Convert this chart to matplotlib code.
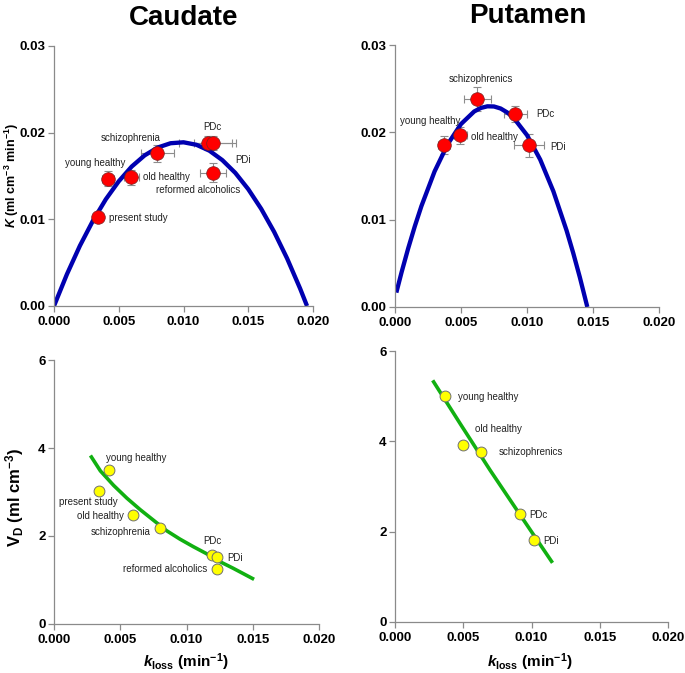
import matplotlib
matplotlib.use("Agg")
import matplotlib.pyplot as plt

plt.rcParams['font.family'] = ['Liberation Sans', 'DejaVu Sans']
plt.rcParams['mathtext.fontset'] = 'custom'
plt.rcParams['mathtext.rm'] = 'Liberation Sans:bold'
plt.rcParams['mathtext.it'] = 'Liberation Sans:bold:italic'
plt.rcParams['mathtext.bf'] = 'Liberation Sans:bold'

# ---- Caudate: K vs kloss ----
cau_groups = ["present study", "young healthy", "old healthy", "schizophrenia",
              "PDc", "PDi", "reformed alcoholics"]
cau_kloss = [0.0034, 0.00417, 0.00597, 0.00798, 0.01189, 0.01228, 0.01228]
cau_K = [0.01028, 0.01471, 0.01483, 0.0176, 0.01883, 0.01883, 0.01537]
cau_kloss_err = [0.0003, 0.0005, 0.0006, 0.0013, 0.0022, 0.00144, 0.001]
cau_K_err = [0.0004, 0.0009, 0.0009, 0.00095, 0.0008, 0.0008, 0.0011]
cau_VD = [3.03, 3.5, 2.47, 2.18, 1.56, 1.53, 1.25]

cau_fitK_k = [0, 0.001, 0.002, 0.003, 0.004, 0.005, 0.006, 0.007, 0.008, 0.009,
              0.010, 0.011, 0.012, 0.013, 0.014, 0.015, 0.016, 0.017, 0.018,
              0.019, 0.01954]
cau_fitK = [0, 0.00367, 0.00695, 0.00982, 0.01231, 0.01439, 0.01609, 0.01738,
            0.01828, 0.01878, 0.01889, 0.0186, 0.01792, 0.01683, 0.01536,
            0.01348, 0.01121, 0.00855, 0.00549, 0.00203, 0]
cau_fitVD_k = [0.00275, 0.0035, 0.0045, 0.0055, 0.0065, 0.0075, 0.0085, 0.0095,
               0.0105, 0.0115, 0.0125, 0.0135, 0.0151]
cau_fitVD = [3.83, 3.48, 3.15, 2.86, 2.60, 2.36, 2.12, 1.93, 1.76, 1.60, 1.42,
             1.27, 1.015]

# ---- Putamen ----
put_groups = ["young healthy", "old healthy", "schizophrenics", "PDc", "PDi"]
put_kloss = [0.00369, 0.00495, 0.00624, 0.00912, 0.01015]
put_K = [0.01854, 0.01964, 0.02381, 0.02209, 0.0185]
put_kloss_err = [0.00045, 0.0005, 0.001, 0.00085, 0.0011]
put_K_err = [0.001, 0.001, 0.0014, 0.0009, 0.0013]
put_vd_kloss = [0.00369, 0.00499, 0.00631, 0.00919, 0.0102]
put_VD = [5.006, 3.909, 3.762, 2.393, 1.811]

put_fitK_k = [0.0001, 0.0005, 0.001, 0.0015, 0.002, 0.003, 0.004, 0.005, 0.006,
              0.0065, 0.007, 0.0075, 0.008, 0.0085, 0.009, 0.010, 0.011, 0.012,
              0.013, 0.0135, 0.014, 0.01457]
put_fitK = [0.00165, 0.00399, 0.00672, 0.00924, 0.01155, 0.01553, 0.01866,
            0.02095, 0.02239, 0.02279, 0.02298, 0.02296, 0.02273, 0.02228,
            0.02163, 0.01968, 0.01688, 0.01324, 0.00875, 0.00619, 0.00342, 0]
put_fitVD_k = [0.00276, 0.00484, 0.00697, 0.00926, 0.01154]
put_fitVD = [5.35, 4.36, 3.36, 2.33, 1.31]

# label placement (x, y, ha)
cau_K_labels = [(0.00425, 0.0101, 'left'), (0.0032, 0.01645, 'center'),
                (0.00685, 0.01483, 'left'), (0.00592, 0.0194, 'center'),
                (0.0122, 0.0206, 'center'), (0.0146, 0.0169, 'center'),
                (0.01112, 0.01336, 'center')]
put_K_labels = [(0.0027, 0.02132, 'center'), (0.00576, 0.01949, 'left'),
                (0.00649, 0.0261, 'center'), (0.01068, 0.02205, 'left'),
                (0.01174, 0.01834, 'left')]
cau_VD_labels = [(0.00257, 2.766, 'center'), (0.00623, 3.766, 'center'),
                 (0.00529, 2.462, 'right'), (0.00728, 2.098, 'right'),
                 (0.01192, 1.879, 'center'), (0.0131, 1.493, 'left'),
                 (0.01156, 1.243, 'right')]
put_VD_labels = [(0.00465, 4.98, 'left'), (0.00758, 4.275, 'center'),
                 (0.00758, 3.753, 'left'), (0.00985, 2.38, 'left'),
                 (0.01088, 1.80, 'left')]

W, H = 685, 673
fig = plt.figure(figsize=(W / 100, H / 100), dpi=100)


def px_axes(left, top, right, bottom):
    return fig.add_axes([left / W, 1 - bottom / H, (right - left) / W,
                         (bottom - top) / H])


def style(ax, yticks, yfmt):
    for s in ['top', 'right']:
        ax.spines[s].set_visible(False)
    for s in ['left', 'bottom']:
        ax.spines[s].set_color('#8a8a8a')
        ax.spines[s].set_linewidth(0.9)
    ax.set_xlim(0, 0.02)
    ax.set_xticks([0, 0.005, 0.01, 0.015, 0.02])
    ax.set_xticklabels(['0.000', '0.005', '0.010', '0.015', '0.020'])
    ax.set_ylim(yticks[0], yticks[-1])
    ax.set_yticks(yticks)
    ax.set_yticklabels([yfmt.format(v) for v in yticks])
    ax.tick_params(direction='out', length=4, width=0.9, color='#8a8a8a',
                   labelsize=9.5, pad=2)
    ax.tick_params(axis='x', pad=3.5)
    for t in ax.get_xticklabels() + ax.get_yticklabels():
        t.set_fontweight('bold')


def k_panel(ax, kx, ky, kxe, kye, fx, fy, names, labels):
    ax.plot(fx, fy, color='#0000b0', lw=3.1, zorder=2.5, solid_capstyle='butt',
            solid_joinstyle='round')
    ax.errorbar(kx, ky, xerr=kxe, yerr=kye, fmt='none', ecolor='#8c8c8c',
                elinewidth=0.8, capsize=3, capthick=0.8, zorder=2)
    ax.plot(kx, ky, 'o', ms=9.8, mfc='#ff0000', mec='#7a2020', mew=0.5,
            ls='none', zorder=3)
    for n, (x, y, ha) in zip(names, labels):
        ax.text(x, y, n, fontsize=7, ha=ha, va='center', color='#222222',
                zorder=4)
    style(ax, [0, 0.01, 0.02, 0.03], '{:.2f}')


def vd_panel(ax, kx, vd, fx, fy, names, labels):
    ax.plot(fx, fy, color='#11b011', lw=2.6, zorder=2, solid_capstyle='butt',
            solid_joinstyle='round')
    ax.plot(kx, vd, 'o', ms=7.8, mfc='#ffff00', mec='#707070', mew=0.7,
            ls='none', zorder=3)
    for n, (x, y, ha) in zip(names, labels):
        ax.text(x, y, n, fontsize=7, ha=ha, va='center', color='#222222',
                zorder=4)
    style(ax, [0, 2, 4, 6], '{:d}')


ax1 = px_axes(54, 46, 313, 306)
k_panel(ax1, cau_kloss, cau_K, cau_kloss_err, cau_K_err, cau_fitK_k, cau_fitK,
        cau_groups, cau_K_labels)

ax2 = px_axes(395, 45, 659, 307)
k_panel(ax2, put_kloss, put_K, put_kloss_err, put_K_err, put_fitK_k, put_fitK,
        put_groups, put_K_labels)

ax3 = px_axes(54, 360, 319, 624)
vd_panel(ax3, cau_kloss, cau_VD, cau_fitVD_k, cau_fitVD, cau_groups,
         cau_VD_labels)

ax4 = px_axes(395, 351, 668, 622)
vd_panel(ax4, put_vd_kloss, put_VD, put_fitVD_k, put_fitVD, put_groups,
         put_VD_labels)

# titles and axis labels
title_font = dict(fontweight='bold', fontsize=20, ha='center', va='center')
fig.text(184 / W, 1 - 18 / H, 'Caudate', **title_font)
fig.text(528 / W, 1 - 16 / H, 'Putamen', **title_font)

fig.text(12 / W, 1 - 175 / H, r'$K$ (ml cm$^{-3}$ min$^{-1}$)', rotation=90,
         ha='center', va='center', fontsize=9, fontweight='bold')
fig.text(15 / W, 1 - 498 / H, r'V$_{\rm D}$ (ml cm$^{-3}$)', rotation=90,
         ha='center', va='center', fontsize=12, fontweight='bold')
fig.text(186 / W, 1 - 662 / H, r'$k_{\rm loss}$ (min$^{-1}$)', ha='center',
         va='center', fontsize=11, fontweight='bold')
fig.text(530 / W, 1 - 662 / H, r'$k_{\rm loss}$ (min$^{-1}$)', ha='center',
         va='center', fontsize=11, fontweight='bold')

fig.savefig('out.png', dpi=100)
